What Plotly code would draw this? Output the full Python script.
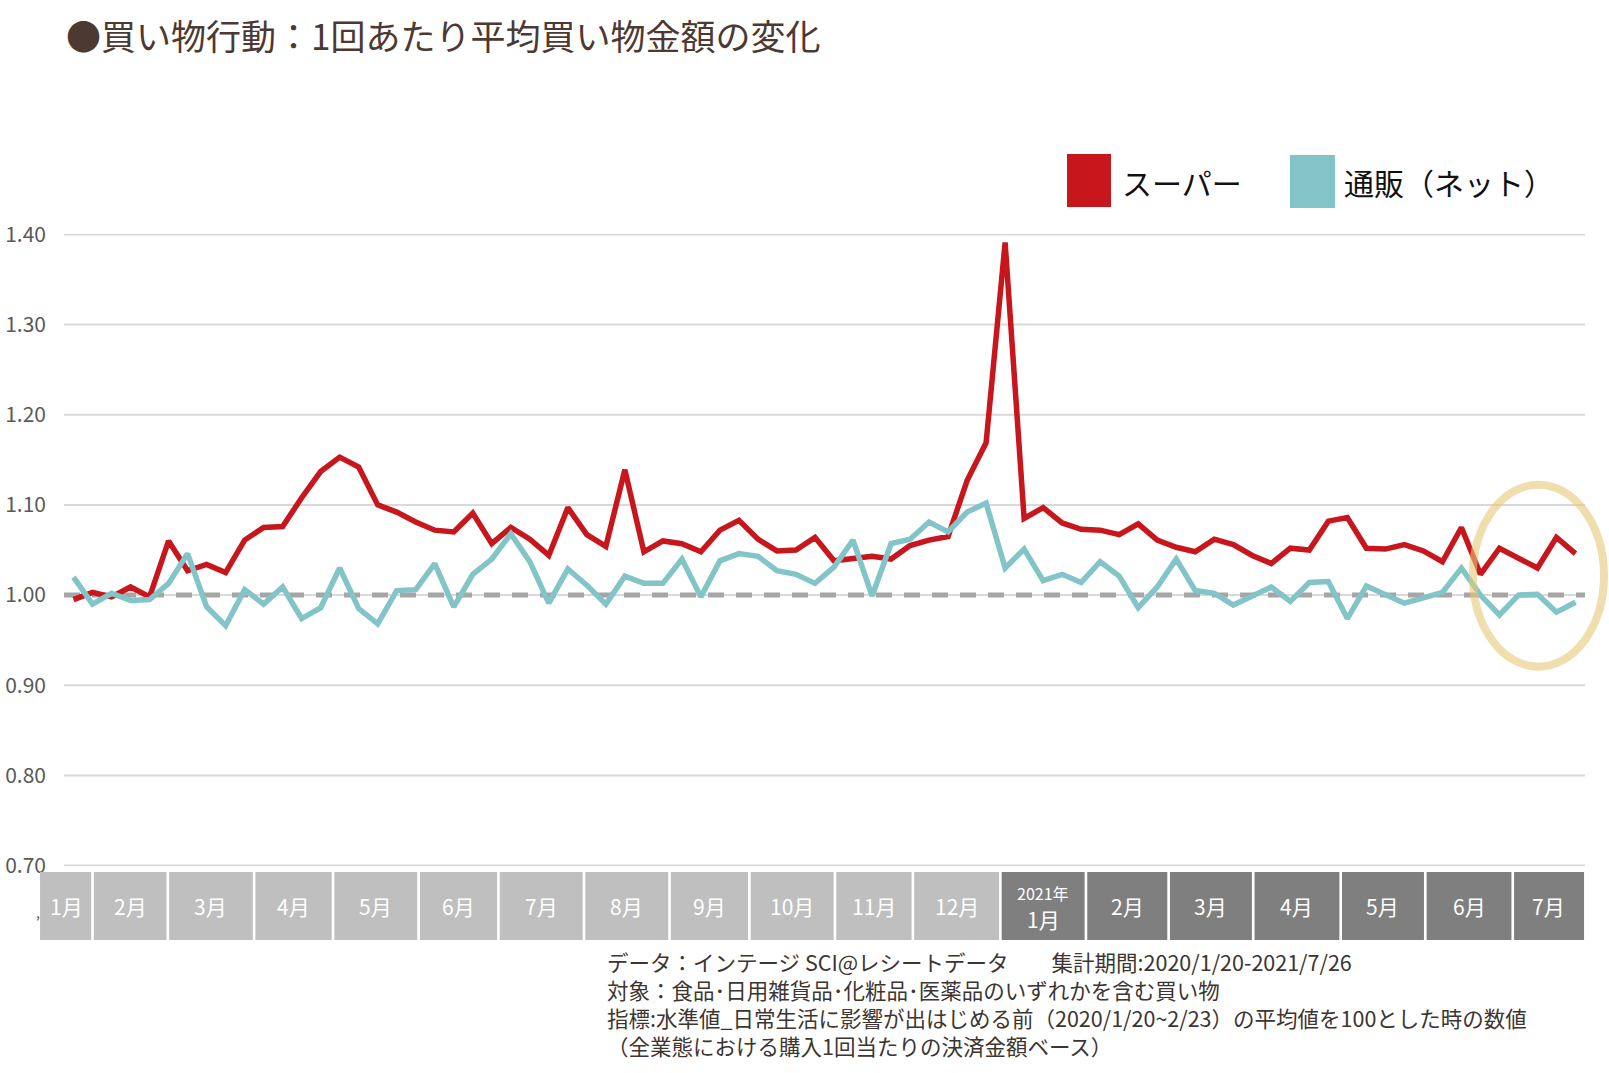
import plotly.graph_objects as go
import pandas as pd

# ---------------- data ----------------
weeks = pd.date_range("2020-01-20", periods=80, freq="7D").strftime("%Y-%m-%d").tolist()

supermarket = [
    0.995, 1.003, 0.998, 1.009, 0.998, 1.060, 1.027, 1.034, 1.025, 1.061,
    1.075, 1.076, 1.108, 1.137, 1.153, 1.142, 1.100, 1.092, 1.081,
    1.072, 1.070, 1.091, 1.057, 1.075, 1.062, 1.044, 1.097, 1.067, 1.054,
    1.139, 1.048, 1.060, 1.057, 1.048, 1.072, 1.083, 1.062, 1.049, 1.050, 1.064,
    1.038, 1.041, 1.043, 1.040, 1.055, 1.061, 1.065, 1.127, 1.169, 1.391,
    1.085, 1.097, 1.080, 1.073, 1.072, 1.067, 1.079, 1.061, 1.053, 1.048, 1.062,
    1.056, 1.044, 1.035, 1.052, 1.050, 1.082, 1.086, 1.052, 1.051, 1.056,
    1.049, 1.037, 1.075, 1.023, 1.052, 1.041, 1.030, 1.064, 1.046,
]

online = [
    1.020, 0.990, 1.002, 0.994, 0.995, 1.013, 1.046, 0.987, 0.966, 1.006,
    0.990, 1.009, 0.974, 0.986, 1.030, 0.985, 0.968, 1.005, 1.006,
    1.035, 0.987, 1.023, 1.040, 1.068, 1.037, 0.991, 1.029, 1.011, 0.990,
    1.021, 1.013, 1.013, 1.040, 0.998, 1.038, 1.046, 1.043, 1.027, 1.023, 1.013,
    1.031, 1.061, 0.999, 1.057, 1.062, 1.081, 1.070, 1.092, 1.102, 1.030,
    1.051, 1.016, 1.023, 1.014, 1.037, 1.021, 0.986, 1.009, 1.040, 1.005, 1.002,
    0.989, 0.999, 1.009, 0.993, 1.014, 1.015, 0.974, 1.010, 1.001, 0.991,
    0.997, 1.003, 1.030, 1.000, 0.978, 1.000, 1.001, 0.981, 0.992,
]

y_ticks = [0.70, 0.80, 0.90, 1.00, 1.10, 1.20, 1.30, 1.40]
y_tick_labels = [f"{v:.2f}" for v in y_ticks]
baseline_value = 1.00

series_names = ["スーパー", "通販（ネット）"]

month_labels = ["1月", "2月", "3月", "4月", "5月", "6月", "7月", "8月", "9月",
                "10月", "11月", "12月", "1月", "2月", "3月", "4月", "5月", "6月", "7月"]
month_year_note = {12: "2021年"}
month_is_2021 = [False] * 12 + [True] * 7
# month band edges, in week-index units
month_edges = [-1.76, 1.0, 4.96, 9.5, 13.65, 18.15, 22.35, 26.85, 31.35, 35.55,
               40.05, 44.15, 48.75, 53.25, 57.6, 62.05, 66.65, 71.1, 75.7, 79.45]

title_text = "●買い物行動：1回あたり平均買い物金額の変化"
notes = [
    "データ：インテージ SCI@レシートデータ　　集計期間:2020/1/20-2021/7/26",
    "対象：食品･日用雑貨品･化粧品･医薬品のいずれかを含む買い物",
    "指標:水準値_日常生活に影響が出はじめる前（2020/1/20~2/23）の平均値を100とした時の数値",
    "（全業態における購入1回当たりの決済金額ベース）",
]

# ---------------- style ----------------
RED = "#C8161D"
TEAL = "#82C4C8"
FONT = "Noto Sans CJK JP"
W, H = 1609, 1073
L, R, T, B = 64, 24, 234, 207
PW, PH = W - L - R, H - T - B
N = len(weeks)
Y0, Y1 = 0.6995, 1.4005


def px_x(px):
    return (px - L) / PW


def px_y(py):
    return (H - B - py) / PH


def idx_x(i):
    return (i + 0.5) / N


def val_y(v):
    return (v - Y0) / (Y1 - Y0)


fig = go.Figure()
fig.add_trace(go.Scatter(x=weeks, y=supermarket, mode="lines", name=series_names[0],
                         line=dict(color=RED, width=5.5)))
fig.add_trace(go.Scatter(x=weeks, y=online, mode="lines", name=series_names[1],
                         line=dict(color=TEAL, width=5.5)))

shapes = []
annotations = []

# horizontal gridlines
for v in y_ticks:
    shapes.append(dict(type="line", xref="paper", yref="y", x0=0, x1=1, y0=v, y1=v,
                       line=dict(color="#D9D9D9", width=2), layer="below"))

# dashed baseline at 1.00
shapes.append(dict(type="line", xref="paper", yref="y", x0=0, x1=1,
                   y0=baseline_value, y1=baseline_value,
                   line=dict(color="#A6A6A6", width=5, dash="16px,12px"), layer="below"))

# highlight ellipse (week index / value units)
shapes.append(dict(type="circle", xref="paper", yref="paper",
                   x0=idx_x(73.6), x1=idx_x(80.5), y0=val_y(0.9205), y1=val_y(1.1225),
                   line=dict(color="rgba(232,200,120,0.6)", width=8), layer="above"))

# month bands
band_top, band_bot = px_y(872), px_y(940)
gap = 0.07
for k, lab in enumerate(month_labels):
    a = month_edges[k] + (gap if k > 0 else 0)
    b = month_edges[k + 1] - (gap if k < len(month_labels) - 1 else 0)
    col = "#7F7F7F" if month_is_2021[k] else "#BFBFBF"
    shapes.append(dict(type="rect", xref="paper", yref="paper",
                       x0=idx_x(a), x1=idx_x(b), y0=band_bot, y1=band_top,
                       fillcolor=col, line=dict(width=0), layer="above"))
    cx = idx_x((month_edges[k] + month_edges[k + 1]) / 2)
    if k in month_year_note:
        annotations.append(dict(x=cx, y=px_y(893), xref="paper", yref="paper",
                                text=month_year_note[k], showarrow=False,
                                font=dict(family=FONT, size=16, color="white"),
                                xanchor="center", yanchor="middle"))
        annotations.append(dict(x=cx, y=px_y(919), xref="paper", yref="paper",
                                text=lab, showarrow=False,
                                font=dict(family=FONT, size=21, color="white"),
                                xanchor="center", yanchor="middle"))
    else:
        annotations.append(dict(x=cx, y=px_y(906), xref="paper", yref="paper",
                                text=lab, showarrow=False,
                                font=dict(family=FONT, size=21, color="white"),
                                xanchor="center", yanchor="middle"))

# stray comma in the reference
annotations.append(dict(x=px_x(38), y=px_y(912), xref="paper", yref="paper", text=",",
                        showarrow=False, font=dict(family=FONT, size=14, color="#595959"),
                        xanchor="center", yanchor="middle"))

# legend (custom squares)
for (x0, x1, y0, y1, tx), col, name in zip(
        [(1067, 1111, 154, 207, 1120), (1290, 1335, 155, 208, 1342)],
        [RED, TEAL], series_names):
    shapes.append(dict(type="rect", xref="paper", yref="paper",
                       x0=px_x(x0), x1=px_x(x1), y0=px_y(y1), y1=px_y(y0),
                       fillcolor=col, line=dict(width=0)))
    annotations.append(dict(x=px_x(tx), y=px_y(182), xref="paper", yref="paper",
                            text=name, showarrow=False,
                            font=dict(family=FONT, size=30, color="#111111"),
                            xanchor="left", yanchor="middle"))

# title
annotations.append(dict(x=px_x(64), y=px_y(34), xref="paper", yref="paper",
                        text=title_text, showarrow=False,
                        font=dict(family=FONT, size=35, color="#4B3932"),
                        xanchor="left", yanchor="middle"))

# notes (one block, left aligned)
annotations.append(dict(x=px_x(605), y=px_y(1003), xref="paper", yref="paper",
                        text="<br>".join(notes), showarrow=False, align="left",
                        font=dict(family=FONT, size=21.5, color="#3D3530"),
                        xanchor="left", yanchor="middle"))

fig.update_layout(
    width=W, height=H,
    margin=dict(l=L, r=R, t=T, b=B, pad=0, autoexpand=False),
    plot_bgcolor="white", paper_bgcolor="white",
    showlegend=False,
    font=dict(family=FONT),
    shapes=shapes,
    annotations=annotations,
    xaxis=dict(type="category", range=[-0.5, N - 0.5], showgrid=False, automargin=False,
               showticklabels=False, zeroline=False, showline=False, ticks=""),
    yaxis=dict(range=[Y0, Y1], tickvals=y_ticks, ticktext=y_tick_labels, automargin=False,
               showgrid=False, zeroline=False, showline=False, ticks="",
               tickfont=dict(family=FONT, size=21, color="#595959"),
               ticklabelstandoff=17),
)

fig.write_html("out.html")
